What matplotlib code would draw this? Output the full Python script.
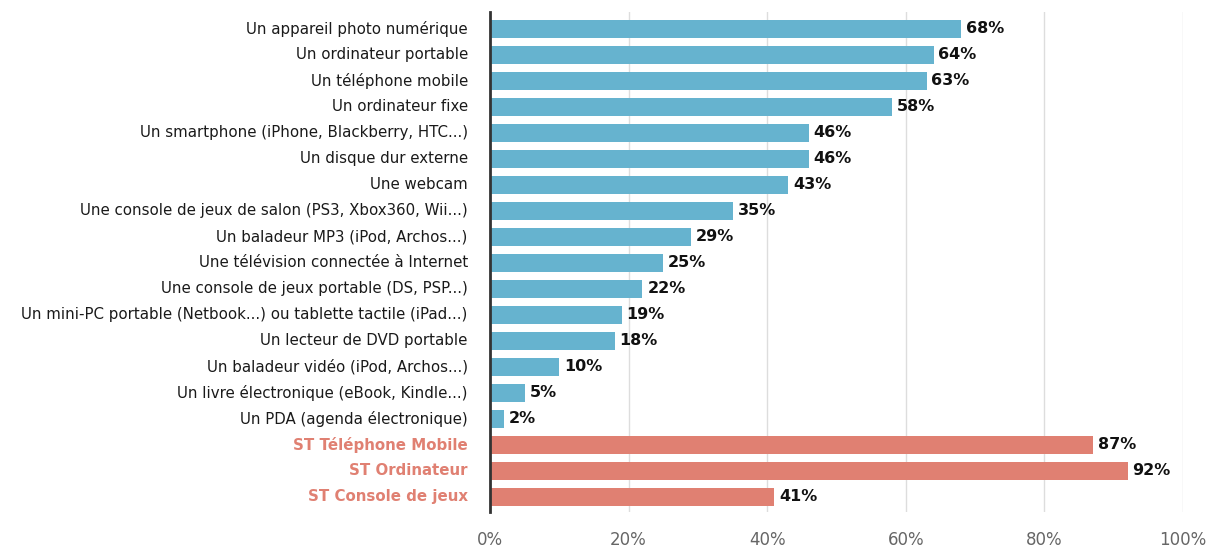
import numpy as np
import matplotlib.pyplot as plt

plt.rcParams['font.family'] = ['DejaVu Sans']

labels = [
    "Un appareil photo numérique",
    "Un ordinateur portable",
    "Un téléphone mobile",
    "Un ordinateur fixe",
    "Un smartphone (iPhone, Blackberry, HTC...)",
    "Un disque dur externe",
    "Une webcam",
    "Une console de jeux de salon (PS3, Xbox360, Wii...)",
    "Un baladeur MP3 (iPod, Archos...)",
    "Une télévision connectée à Internet",
    "Une console de jeux portable (DS, PSP...)",
    "Un mini-PC portable (Netbook...) ou tablette tactile (iPad...)",
    "Un lecteur de DVD portable",
    "Un baladeur vidéo (iPod, Archos...)",
    "Un livre électronique (eBook, Kindle...)",
    "Un PDA (agenda électronique)",
    "ST Téléphone Mobile",
    "ST Ordinateur",
    "ST Console de jeux",
]
values = [68, 64, 63, 58, 46, 46, 43, 35, 29, 25, 22, 19, 18, 10, 5, 2, 87, 92, 41]
is_total = [False] * 16 + [True] * 3
xticks = [0, 20, 40, 60, 80, 100]

blue = "#66b3cf"
red = "#e08072"

fig = plt.figure(figsize=(12.09, 5.49), dpi=100)
ax = fig.add_axes([0.4053, 0.0674, 0.5732, 0.9107])

y = np.arange(len(values))
colors = [red if t else blue for t in is_total]
ax.barh(y, values, height=0.69, color=colors, zorder=3)

for yi, v in zip(y, values):
    ax.text(v + 0.7, yi, f"{v}%", va="center", ha="left", fontsize=11.5,
            fontweight="bold", color="#111111", zorder=4)

ax.set_ylim(18.58, -0.65)
ax.set_xlim(0, 100)
ax.set_yticks(y)
ax.set_yticklabels(labels, fontsize=10.8, va="center")
for lab, t in zip(ax.get_yticklabels(), is_total):
    lab.set_color(red if t else "#1a1a1a")
    if t:
        lab.set_fontweight("bold")
ax.set_xticks(xticks)
ax.set_xticklabels([f"{x}%" for x in xticks], fontsize=12, color="#666666")
ax.tick_params(axis="y", length=0, pad=16)
ax.tick_params(axis="x", length=0, pad=14)

ax.grid(axis="x", color="#dddddd", linewidth=1, zorder=0)
for s in ["top", "right", "bottom"]:
    ax.spines[s].set_visible(False)
ax.spines["left"].set_color("#333333")
ax.spines["left"].set_linewidth(2)
ax.spines["left"].set_zorder(5)

fig.savefig("out.png", dpi=100)
